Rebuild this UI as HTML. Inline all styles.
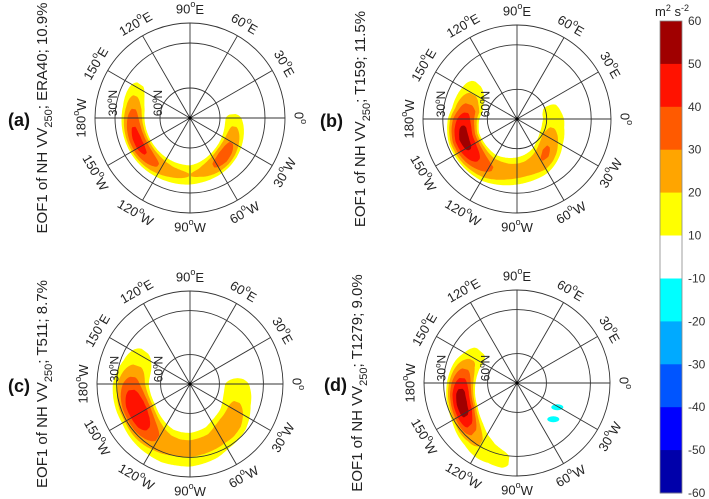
<!DOCTYPE html>
<html><head><meta charset="utf-8"><style>
html,body{margin:0;padding:0;background:#fff}
svg{display:block;font-family:"Liberation Sans",sans-serif}
</style></head><body>
<svg id="fig" width="709" height="499" viewBox="0 0 709 499">
<rect width="709" height="499" fill="#fff"/>
<g id="panels"></g>
<g id="cbar"></g>
</svg>
<script>
// ---- data ----
const lons = [130,140,150,160,170,180,190,200,210,220,230,240,250,260,270,280,290,300,310,320,330,340,350,360,370,380,390];
const ampA = [0,6,14,22,30,36,41,44,44,40,34,28,24,22,20,22,27,33,37,35,30,25,20,15,6,0,0];
const latA = [40,40,40,41,42,42,42,42,42,42,42,42,42,42,42,43,44,45,46,47,48,49,50,51,52,52,52];
const ampB = [4,12,20,28,38,46,52,54,52,46,38,32,28,25,24,24,26,30,32,30,26,22,19,17,15,12,6];
const latB = [44,45,46,46,46,44,43,42,42,42,42,42,43,44,45,46,47,48,50,52,54,55,56,56,57,57,57];
const ampC = [0,8,14,20,28,36,44,50,50,46,38,30,26,24,24,24,24,26,28,27,24,20,18,15,8,0,0];
const latC = [42,42,42,42,41,40,40,40,40,39,38,37,36,36,36,37,38,40,41,42,44,46,47,48,49,50,50];
const ampD = [0,12,18,26,36,46,54,56,54,44,30,20,14,12,8,0,0,0,0,0,0,0,0,0,0,0,0];
const latD = [48,47,46,44,43,42,41,40,39,37,35,32,30,28,27,27,27,27,27,27,27,27,27,27,27,27,27];
const negLonD = [329,315];
const negLatD = [48,45];
const negValD = [-15,-14];
const cbLevels = [60,50,40,30,20,10,-10,-20,-30,-40,-50,-60];
const cbColors = ["#a00000","#ff1200","#ff5a00","#ffa500","#ffff00","#ffffff","#00ffff","#00aaff","#0055ff","#0000ff","#0000aa"];
const posLevels = [10,20,30,40,50];
const posColors = ["#ffff00","#ffa500","#ff5a00","#ff1200","#a00000"];

const NS="http://www.w3.org/2000/svg";
function mk(tag,attrs,parent){const e=document.createElementNS(NS,tag);for(const k in attrs)e.setAttribute(k,attrs[k]);if(parent)parent.appendChild(e);return e;}
function rOf(lat,R){const L=[90,60,30,20,10],P=[0,30,75,95,112];
  for(let i=0;i<L.length-1;i++){if(lat>=L[i+1]){const t=(L[i]-lat)/(L[i]-L[i+1]);return (P[i]+t*(P[i+1]-P[i]))*R/95;}}
  return P[4]*R/95;}
function interp(arr,lon){if(lon<=lons[0])return arr[0];for(let i=0;i<lons.length-1;i++){if(lon<=lons[i+1]){const t=(lon-lons[i])/(lons[i+1]-lons[i]);return arr[i]+t*(arr[i+1]-arr[i]);}}return arr[arr.length-1];}
function pt(cx,cy,R,lon,lat){const r=rOf(lat,R),a=lon*Math.PI/180;return [cx+r*Math.cos(a),cy-r*Math.sin(a)];}

const panels=[
 {id:"a",cx:190,cy:118,R:95,amp:ampA,lat:latA,W:9,title:["ERA40; 10.9%"],tx:47,lx:8,neg:false},
 {id:"b",cx:517,cy:119,R:94,amp:ampB,lat:latB,W:12,title:["T159; 11.5%"],tx:365,lx:320,neg:false},
 {id:"c",cx:190,cy:384,R:93,amp:ampC,lat:latC,W:14,title:["T511;  8.7%"],tx:47,lx:8,neg:false},
 {id:"d",cx:517,cy:383,R:93,amp:ampD,lat:latD,W:11,title:["T1279;  9.0%"],tx:362,lx:324,neg:true}
];
const labelTxt={0:"0",30:"30",60:"60",90:"90",120:"120",150:"150",180:"180",210:"150",240:"120",270:"90",300:"60",330:"30"};
const labelSfx={0:"",30:"E",60:"E",90:"E",120:"E",150:"E",180:"W",210:"W",240:"W",270:"W",300:"W",330:"W"};
const root=document.getElementById("panels");
panels.forEach(p=>{
  const g=mk("g",{},root);
  
  
  posLevels.forEach((L,li)=>{
    let seg=[];const segs=[];
    for(let lon=130;lon<=390;lon+=1){const A=interp(p.amp,lon);if(A>L){seg.push(lon);}else{if(seg.length>1)segs.push(seg);seg=[];}}
    if(seg.length>1)segs.push(seg);
    segs.forEach(s=>{
      const outer=[],inner=[];
      s.forEach(lon=>{const A=interp(p.amp,lon),la=interp(p.lat,lon),hw=p.W*Math.sqrt(1-L/A);
        outer.push(pt(p.cx,p.cy,p.R,lon,la-hw));inner.push(pt(p.cx,p.cy,p.R,lon,la+hw));});
      const pts=outer.concat(inner.reverse()).map(q=>q[0].toFixed(1)+","+q[1].toFixed(1)).join(" ");
      const poly=mk("polygon",{points:pts,fill:posColors[li],stroke:"none"},g);
      
      
    });
  });
  if(p.neg){negLonD.forEach((lo,i)=>{const c=pt(p.cx,p.cy,p.R,lo,negLatD[i]);
    const e=mk("ellipse",{cx:c[0].toFixed(1),cy:c[1].toFixed(1),rx:6,ry:3,fill:"#00ffff"},g);
    
    });}
  const grid=mk("g",{stroke:"#333","stroke-width":0.9,fill:"none"},g);
  
  
  [60,30,20].forEach(la=>{const c=mk("circle",{cx:p.cx,cy:p.cy,r:rOf(la,p.R).toFixed(1)},grid);
    
    });
  for(let lo=0;lo<360;lo+=30){const q=pt(p.cx,p.cy,p.R,lo,20);
    const l=mk("line",{x1:p.cx,y1:p.cy,x2:q[0].toFixed(1),y2:q[1].toFixed(1)},grid);
    
    }
  for(let lo=0;lo<360;lo+=30){const a=lo*Math.PI/180,rr=p.R+14;
    const x=p.cx+rr*Math.cos(a),y=p.cy-rr*Math.sin(a);
    const rot=(lo<=180)?(90-lo):(270-lo);
    const t=mk("text",{x:x.toFixed(1),y:y.toFixed(1),"font-size":13,"text-anchor":"middle","dominant-baseline":"central",fill:"#222",transform:`rotate(${rot} ${x.toFixed(1)} ${y.toFixed(1)})`},g);
    
    
    t.appendChild(document.createTextNode(labelTxt[lo]));
    const s=mk("tspan",{"font-size":9,dy:-5},t);s.textContent="o";
    const s2=mk("tspan",{dy:5},t);s2.textContent=labelSfx[lo];
  }
  [[30,"30"],[60,"60"]].forEach(([la,tx])=>{const r=rOf(la,p.R)+2;const x=p.cx-r,y=p.cy-15;
    const t=mk("text",{x:x,y:y,"font-size":12,"text-anchor":"middle","dominant-baseline":"central",fill:"#222",transform:`rotate(-90 ${x} ${y})`},g);
    
    
    t.appendChild(document.createTextNode(tx));const s=mk("tspan",{"font-size":8,dy:-4},t);s.textContent="o";const s2=mk("tspan",{dy:4},t);s2.textContent="N";});
  mk("circle",{cx:p.cx,cy:p.cy,r:1.5,fill:"#000"},g);
  const ty=p.cy;
  const tt=mk("text",{x:p.tx,y:ty,"font-size":15,"text-anchor":"middle",fill:"#222",transform:`rotate(-90 ${p.tx} ${ty})`},g);
  
  
  tt.appendChild(document.createTextNode("EOF1 of NH VV"));
  const sb=mk("tspan",{"font-size":11,dy:5},tt);sb.textContent="250";
  const rest=mk("tspan",{dy:-5},tt);rest.textContent="; "+p.title[0];
  const lb=mk("text",{x:p.lx,y:p.cy+8,"font-size":18,"font-weight":"bold",fill:"#111"},g);
  
  
  lb.textContent="("+p.id+")";
});
const cb=document.getElementById("cbar");
const cbTop=21,cbBot=493,cbX=660,cbW=22;
const n=cbLevels.length-1,h=(cbBot-cbTop)/n;
for(let i=0;i<n;i++){const r=mk("rect",{x:cbX,y:(cbTop+i*h).toFixed(1),width:cbW,height:(h+0.5).toFixed(1),fill:cbColors[i]},cb);
  
  }
const fr=mk("rect",{x:cbX,y:cbTop,width:cbW,height:cbBot-cbTop,fill:"none",stroke:"#888","stroke-width":0.8},cb);


cbLevels.forEach((v,i)=>{const t=mk("text",{x:688,y:(cbTop+i*h+4).toFixed(1),"font-size":12,fill:"#333"},cb);
  
  
  t.textContent=String(v);});
const u=mk("text",{x:655,y:16,"font-size":13,fill:"#222"},cb);


u.appendChild(document.createTextNode("m"));const u1=mk("tspan",{"font-size":9,dy:-5},u);u1.textContent="2";
const u2=mk("tspan",{dy:5},u);u2.textContent=" s";const u3=mk("tspan",{"font-size":9,dy:-5},u);u3.textContent="-2";
</script>
</body></html>
